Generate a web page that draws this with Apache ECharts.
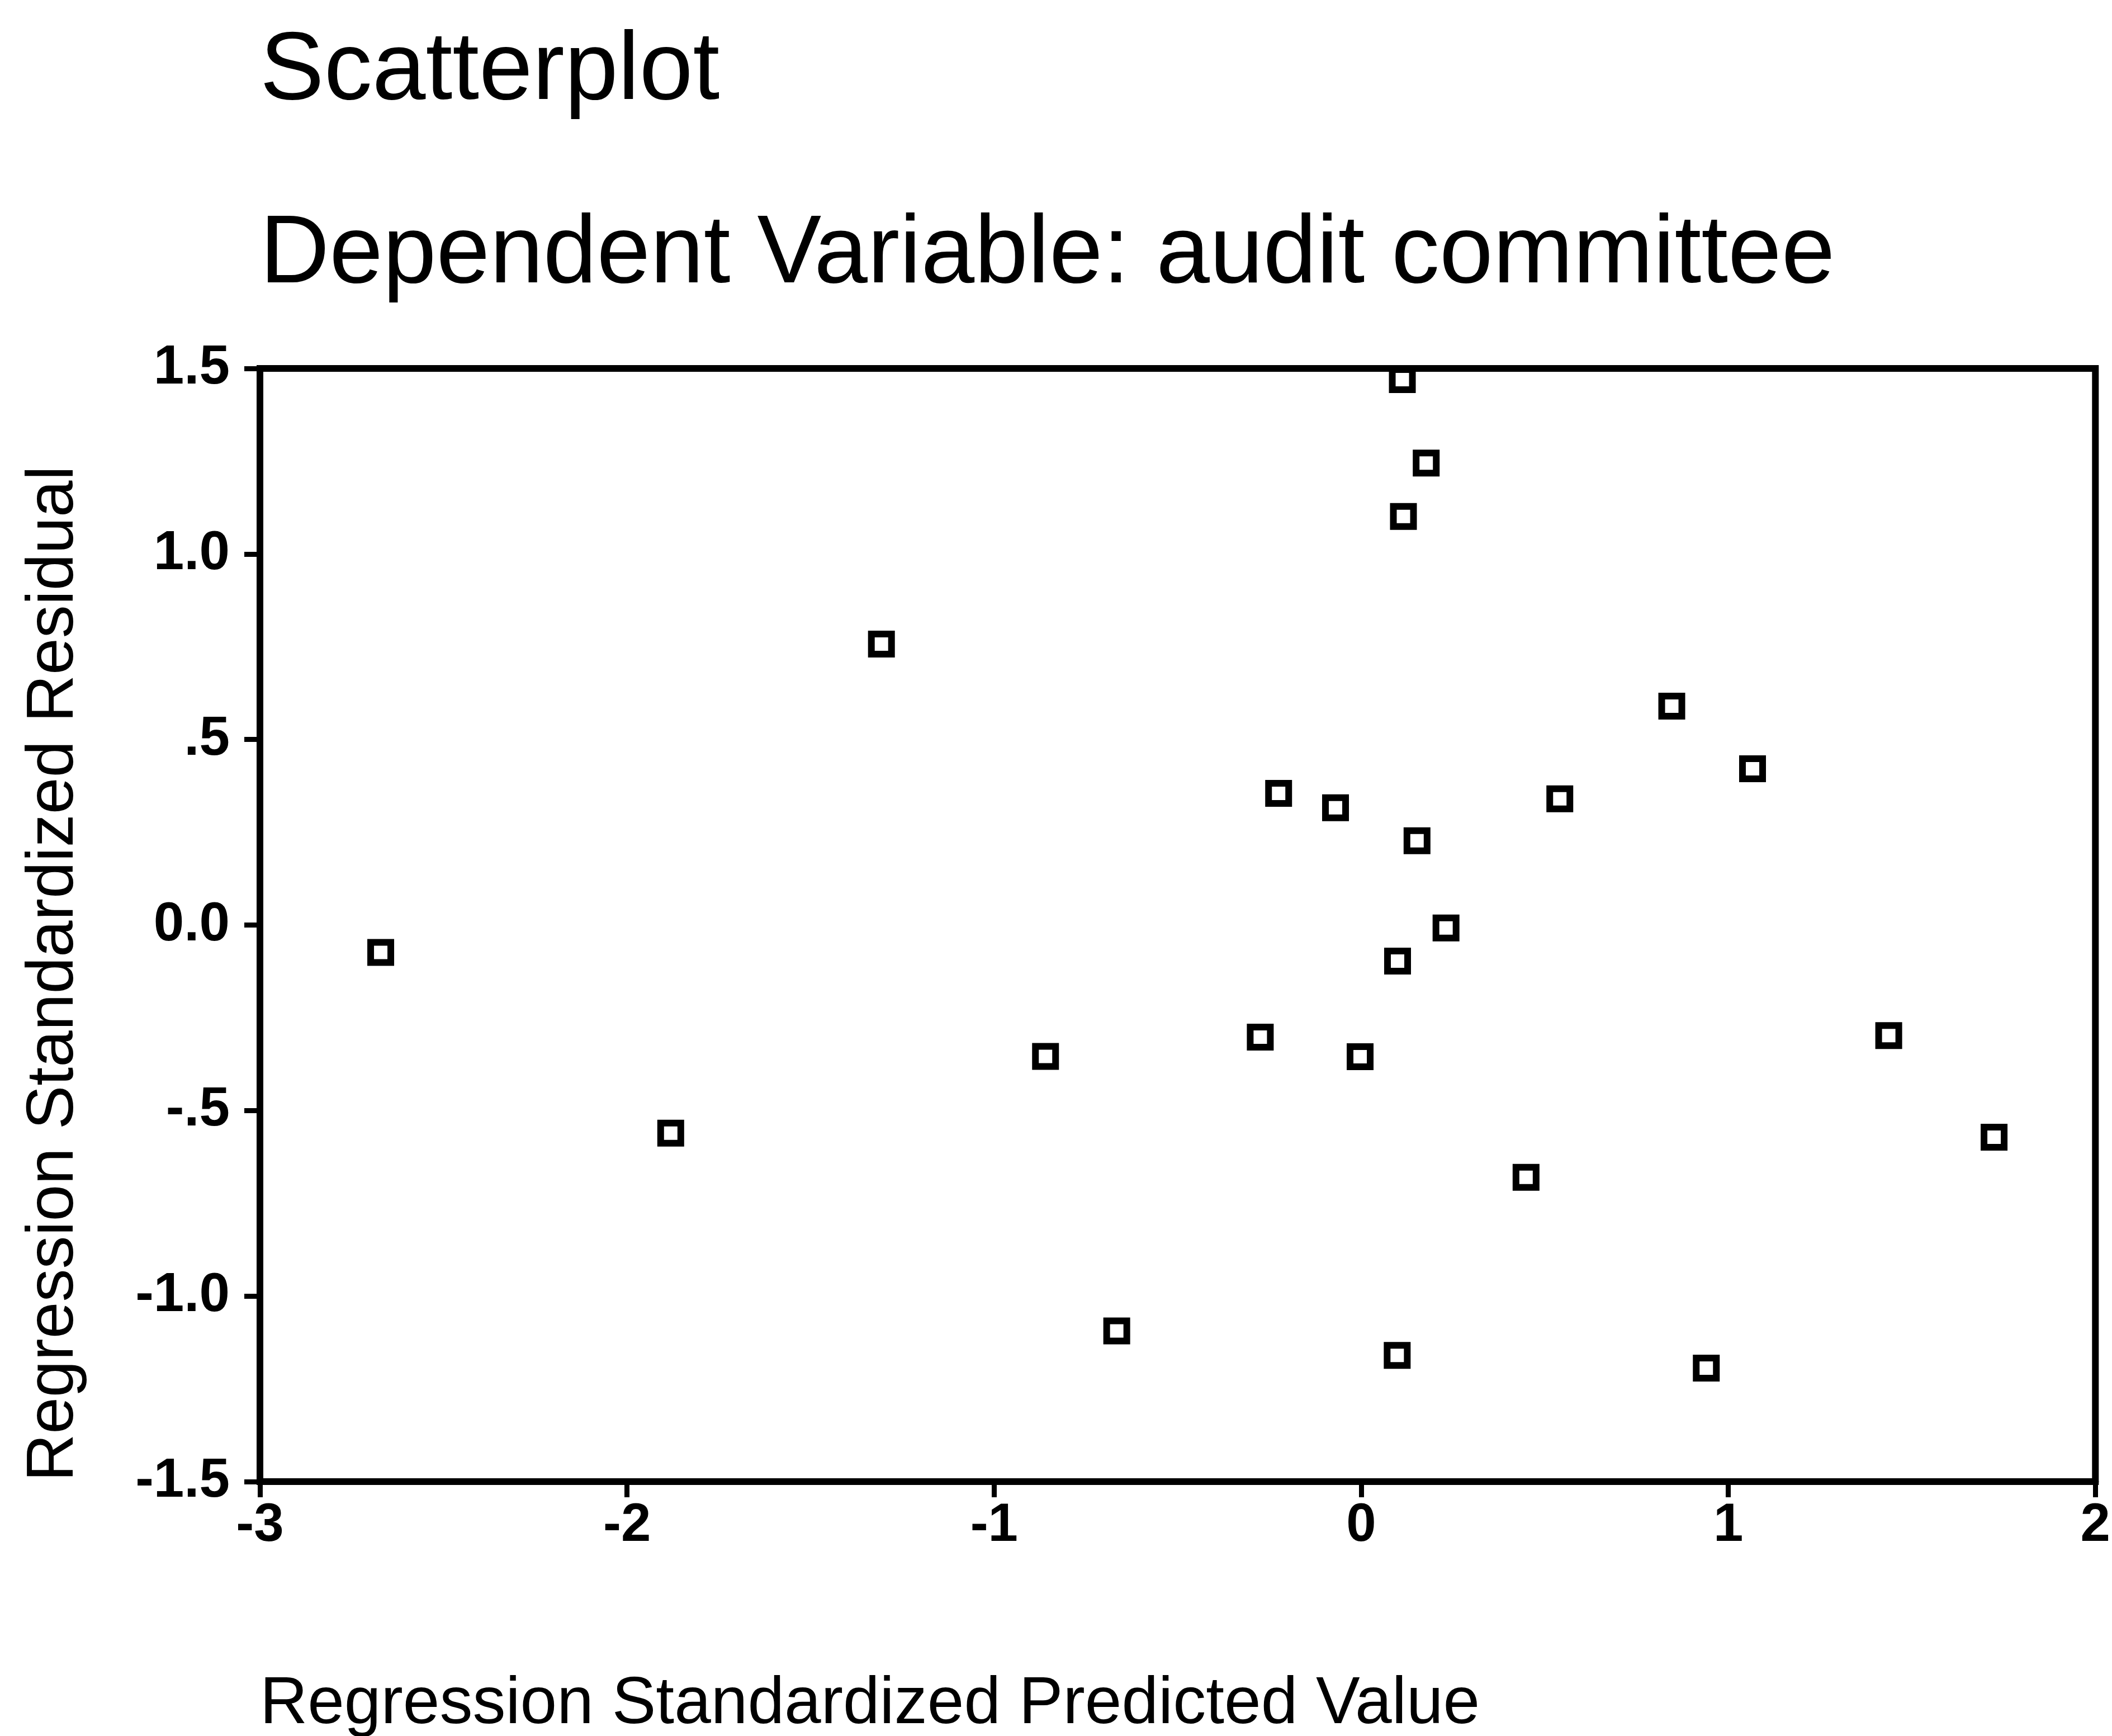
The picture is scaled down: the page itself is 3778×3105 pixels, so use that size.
<!DOCTYPE html>
<html>
<head>
<meta charset="utf-8">
<script src="https://cdn.jsdelivr.net/npm/echarts@6/dist/echarts.min.js"></script>
<style>
html,body{margin:0;padding:0;background:#fff;}
#chart{width:3778px;height:3105px;}
</style>
</head>
<body>
<div id="chart"></div>
<script>
// Data
var predicted = [0.112, 0.177, 0.115, -1.307, 0.846, 1.066, -0.225, -0.070, 0.541, 0.152, 0.231, -2.671, 0.099, -0.275, 1.437, -0.860, -0.003, -1.881, 1.724, 0.449, -0.666, 0.098, 0.940];
var residual  = [1.470, 1.245, 1.101, 0.757, 0.590, 0.421, 0.355, 0.316, 0.340, 0.227, -0.008, -0.074, -0.097, -0.302, -0.298, -0.354, -0.355, -0.561, -0.572, -0.680, -1.094, -1.160, -1.194];
var yTickValues = [-1.5, -1.0, -0.5, 0.0, 0.5, 1.0, 1.5];
var yTickLabels = ['-1.5', '-1.0', '-.5', '0.0', '.5', '1.0', '1.5'];
var xTickLabels = ['-3', '-2', '-1', '0', '1', '2'];

var titleText = 'Scatterplot';
var subtitleText = 'Dependent Variable: audit committee';
var xName = 'Regression Standardized Predicted Value';
var yName = 'Regression Standardized Residual';

var points = predicted.map(function (x, i) { return [x, residual[i]]; });
var FONT = '"Liberation Sans", Arial, Helvetica, sans-serif';

var chart = echarts.init(document.getElementById('chart'), null, {renderer: 'canvas'});
chart.setOption({
  backgroundColor: '#fff',
  animation: false,
  grid: {
    left: 465, right: 21, top: 659, bottom: 455,
    show: true, borderColor: '#000', borderWidth: 12, backgroundColor: 'transparent'
  },
  xAxis: {
    type: 'value', min: -3, max: 2, interval: 1,
    axisLine: {show: true, onZero: false, lineStyle: {color: '#000', width: 12}},
    axisTick: {show: true, inside: false, length: 28, lineStyle: {color: '#000', width: 9}},
    axisLabel: {
      margin: 32, color: '#000', fontFamily: FONT, fontWeight: 'bold', fontSize: 96,
      formatter: function (v) { var i = Math.round(v + 3); return xTickLabels[i] !== undefined ? xTickLabels[i] : ''; }
    },
    splitLine: {show: false}
  },
  yAxis: {
    type: 'value', min: -1.5, max: 1.5, interval: 0.5,
    axisLine: {show: true, onZero: false, lineStyle: {color: '#000', width: 12}},
    axisTick: {show: true, inside: false, length: 28, lineStyle: {color: '#000', width: 9}},
    axisLabel: {
      margin: 54, color: '#000', fontFamily: FONT, fontWeight: 'bold', fontSize: 98,
      formatter: function (v) {
        for (var i = 0; i < yTickValues.length; i++) {
          if (Math.abs(yTickValues[i] - v) < 1e-9) return yTickLabels[i];
        }
        return '';
      }
    },
    splitLine: {show: false}
  },
  graphic: [
    {type: 'text', left: 465, top: 44, style: {text: titleText, font: '172px ' + FONT, fill: '#000'}},
    {type: 'text', left: 465, top: 372, style: {text: subtitleText, font: '172px ' + FONT, fill: '#000'}},
    {type: 'text', left: 465, top: 2990, style: {text: xName, font: '118px ' + FONT, fill: '#000'}},
    {type: 'text', x: 38, y: 2650, rotation: Math.PI / 2,
     style: {text: yName, font: '118px ' + FONT, fill: '#000', align: 'left', verticalAlign: 'top'}}
  ],
  series: [{
    type: 'scatter',
    data: points,
    symbol: 'rect',
    symbolSize: 36,
    itemStyle: {color: '#fff', borderColor: '#000', borderWidth: 12, opacity: 1},
    clip: false
  }]
});
</script>
</body>
</html>
